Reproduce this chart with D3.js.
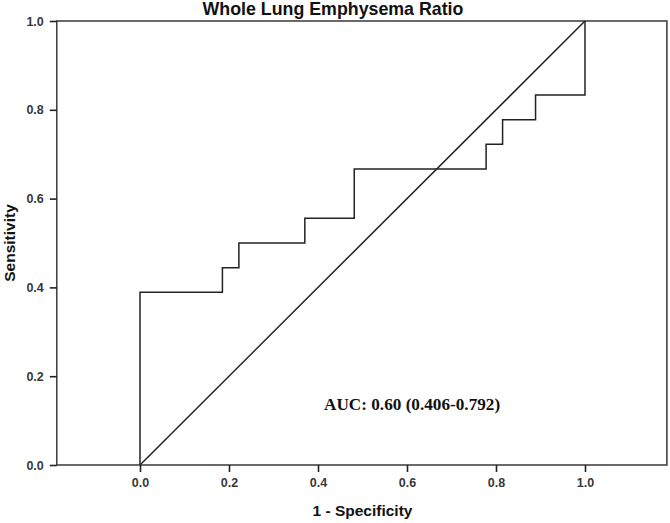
<!DOCTYPE html>
<html><head><meta charset="utf-8">
<script src="https://cdn.jsdelivr.net/npm/d3@7"></script>
<style>body{margin:0;background:#fff}svg{display:block}</style>
</head><body>
<svg id="c" width="670" height="523"></svg>
<script>
const fpr = [0, 0, 5/27, 5/27, 6/27, 6/27, 10/27, 10/27, 13/27, 13/27, 21/27, 21/27, 22/27, 22/27, 24/27, 24/27, 1, 1];
const tpr = [0, 7/18, 7/18, 8/18, 8/18, 9/18, 9/18, 10/18, 10/18, 12/18, 12/18, 13/18, 13/18, 14/18, 14/18, 15/18, 15/18, 1];
const refLine = [[0,0],[1,1]];
const xTicks = [0, 0.2, 0.4, 0.6, 0.8, 1.0];
const yTicks = [0, 0.2, 0.4, 0.6, 0.8, 1.0];
const title = "Whole Lung Emphysema Ratio";
const xLabel = "1 - Specificity";
const yLabel = "Sensitivity";
const aucText = "AUC: 0.60 (0.406-0.792)";

const svg = d3.select("#c");
const x = d3.scaleLinear().domain([0,1]).range([140,585]);
const y = d3.scaleLinear().domain([0,1]).range([465,21]);
const left = x(-0.187), right = x(1.184);
const col = "#222";

svg.append("rect").attr("x",left).attr("y",y(1)).attr("width",right-left).attr("height",y(0)-y(1))
  .attr("fill","none").attr("stroke","#444").attr("stroke-width",1.6);

const xAxis = svg.append("g").attr("transform",`translate(0,${y(0)})`)
  .call(d3.axisBottom(x).tickValues(xTicks).tickFormat(d3.format(".1f")).tickSize(7).tickSizeOuter(0).tickPadding(6));
xAxis.select(".domain").remove();
const yAxis = svg.append("g").attr("transform",`translate(${left},0)`)
  .call(d3.axisLeft(y).tickValues(yTicks).tickFormat(d3.format(".1f")).tickSize(7).tickSizeOuter(0).tickPadding(6));
yAxis.select(".domain").remove();
svg.selectAll(".tick line").attr("stroke",col).attr("stroke-width",1.6);
svg.selectAll(".tick text").attr("fill","#111").attr("font-family","Liberation Sans, Arial, sans-serif").attr("font-size",12.5).attr("font-weight","bold").attr("opacity",0.85);

svg.append("path").datum(refLine)
  .attr("d", d3.line().x(d=>x(d[0])).y(d=>y(d[1])))
  .attr("fill","none").attr("stroke",col).attr("stroke-width",1.5);

svg.append("path").datum(d3.range(fpr.length))
  .attr("d", d3.line().x(i=>x(fpr[i])).y(i=>y(tpr[i])))
  .attr("fill","none").attr("stroke",col).attr("stroke-width",1.5);

svg.append("text").attr("x",333).attr("y",15).attr("text-anchor","middle")
  .attr("font-family","Liberation Sans, Arial, sans-serif").attr("font-weight","bold").attr("font-size",17.8).attr("fill","#111").text(title);
svg.append("text").attr("x",x(0.5)).attr("y",516).attr("text-anchor","middle")
  .attr("font-family","Liberation Sans, Arial, sans-serif").attr("font-weight","bold").attr("font-size",15.5).attr("fill","#111").text(xLabel);
svg.append("text").attr("transform",`translate(15,${y(0.5)}) rotate(-90)`).attr("text-anchor","middle")
  .attr("font-family","Liberation Sans, Arial, sans-serif").attr("font-weight","bold").attr("font-size",15.5).attr("fill","#111").text(yLabel);
svg.append("text").attr("x",324).attr("y",410)
  .attr("font-family","Liberation Serif, Times New Roman, serif").attr("font-weight","bold").attr("font-size",17.2).attr("fill","#111").text(aucText);
</script>
</body></html>
